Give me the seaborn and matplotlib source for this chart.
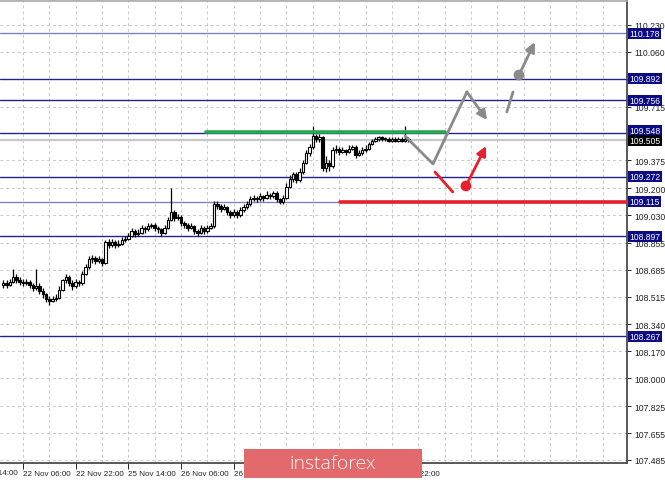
import matplotlib
matplotlib.use("Agg")
import matplotlib.pyplot as plt
import matplotlib.transforms as mtransforms
from matplotlib.patches import Rectangle
import seaborn as sns
import numpy as np

# ---- data (H1 candles, hours from 22 Nov 06:00) ----
hours = np.arange(-6, 118)
first_open = 108.59
closes = [108.60, 108.59, 108.61, 108.64, 108.62, 108.61, 108.60, 108.61, 108.59, 108.57,
          108.58, 108.55, 108.53, 108.50, 108.49, 108.50, 108.51, 108.56, 108.62, 108.64,
          108.60, 108.58, 108.61, 108.60, 108.66, 108.70, 108.75, 108.76, 108.74, 108.75,
          108.73, 108.86, 108.84, 108.86, 108.84, 108.85, 108.87, 108.88, 108.90, 108.93,
          108.91, 108.92, 108.95, 108.94, 108.96, 108.97, 108.95, 108.94, 108.92, 108.95,
          109.00, 109.05, 109.01, 109.02, 108.98, 108.97, 108.95, 108.96, 108.93, 108.92,
          108.95, 108.93, 108.95, 108.96, 109.10, 109.09, 109.07, 109.08, 109.05, 109.03,
          109.05, 109.03, 109.06, 109.08, 109.10, 109.13, 109.14, 109.13, 109.15, 109.14,
          109.16, 109.15, 109.17, 109.13, 109.11, 109.14, 109.21, 109.26, 109.29, 109.25,
          109.30, 109.36, 109.42, 109.46, 109.53, 109.51, 109.52, 109.33, 109.36, 109.34,
          109.44, 109.45, 109.43, 109.44, 109.43, 109.45, 109.46, 109.41, 109.42, 109.44,
          109.45, 109.48, 109.50, 109.51, 109.52, 109.51, 109.51, 109.50, 109.51, 109.50,
          109.51, 109.50, 109.51, 109.505]
highs = [108.62, 108.62, 108.63, 108.69, 108.66, 108.64, 108.63, 108.63, 108.62, 108.60,
         108.69, 108.60, 108.57, 108.54, 108.52, 108.52, 108.53, 108.58, 108.63, 108.66,
         108.65, 108.62, 108.63, 108.62, 108.68, 108.72, 108.77, 108.78, 108.77, 108.77,
         108.76, 108.87, 108.88, 108.88, 108.87, 108.87, 108.89, 108.90, 108.92, 108.95,
         108.94, 108.94, 108.97, 108.96, 108.98, 108.98, 108.98, 108.96, 108.95, 108.97,
         109.02, 109.20, 109.06, 109.04, 109.03, 108.99, 108.98, 108.98, 108.97, 108.94,
         108.97, 108.96, 108.97, 108.98, 109.12, 109.12, 109.10, 109.10, 109.09, 109.06,
         109.07, 109.06, 109.08, 109.10, 109.12, 109.15, 109.16, 109.15, 109.17, 109.16,
         109.18, 109.17, 109.18, 109.18, 109.14, 109.16, 109.23, 109.28, 109.30, 109.30,
         109.33, 109.38, 109.44, 109.48, 109.59, 109.54, 109.54, 109.53, 109.40, 109.38,
         109.46, 109.47, 109.46, 109.46, 109.45, 109.47, 109.47, 109.47, 109.44, 109.46,
         109.47, 109.49, 109.51, 109.52, 109.53, 109.53, 109.52, 109.52, 109.52, 109.52,
         109.52, 109.52, 109.59, 109.52]
lows = [108.57, 108.57, 108.58, 108.60, 108.60, 108.59, 108.58, 108.59, 108.57, 108.55,
        108.56, 108.53, 108.51, 108.48, 108.46, 108.48, 108.49, 108.50, 108.55, 108.60,
        108.58, 108.56, 108.57, 108.58, 108.59, 108.65, 108.69, 108.73, 108.72, 108.73,
        108.71, 108.72, 108.82, 108.83, 108.82, 108.83, 108.84, 108.86, 108.87, 108.89,
        108.89, 108.90, 108.91, 108.92, 108.93, 108.95, 108.93, 108.92, 108.90, 108.91,
        108.94, 108.99, 108.99, 109.00, 108.96, 108.95, 108.93, 108.94, 108.91, 108.90,
        108.91, 108.91, 108.92, 108.94, 108.95, 109.07, 109.05, 109.06, 109.03, 109.01,
        109.02, 109.01, 109.02, 109.05, 109.07, 109.09, 109.12, 109.11, 109.12, 109.12,
        109.13, 109.13, 109.14, 109.11, 109.10, 109.10, 109.13, 109.20, 109.24, 109.23,
        109.24, 109.29, 109.35, 109.40, 109.45, 109.49, 109.49, 109.31, 109.30, 109.31,
        109.33, 109.42, 109.41, 109.42, 109.41, 109.42, 109.44, 109.39, 109.40, 109.41,
        109.43, 109.44, 109.47, 109.49, 109.50, 109.50, 109.50, 109.49, 109.49, 109.49,
        109.49, 109.49, 109.49, 109.49]
opens = [first_open] + closes[:-1]

# price axis: grid values and the labels that are visible (the others sit under level boxes)
price_grid = [110.230, 110.060, 109.890, 109.715, 109.545, 109.375, 109.200, 109.030,
              108.855, 108.685, 108.515, 108.340, 108.170, 108.000, 107.825, 107.655, 107.485]
price_labels = [110.230, 110.060, 109.715, 109.375, 109.200, 109.030,
                108.855, 108.685, 108.515, 108.340, 108.170, 108.000, 107.825, 107.655, 107.485]
levels = [110.178, 109.892, 109.756, 109.548, 109.272, 109.115, 108.897, 108.267]
level_colors = ["#8080c8", "#23238f", "#23238f", "#23238f", "#23238f", "#8080c8", "#23238f", "#23238f"]
current_price = 109.505

# time axis (hours from 22 Nov 06:00)
time_ticks = [0, 16, 32, 48, 64, 80, 96, 112]
time_labels = ["22 Nov 06:00", "22 Nov 22:00", "25 Nov 14:00", "26 Nov 06:00",
               "26 Nov 22:00", "27 Nov 14:00", "28 Nov 06:00", "28 Nov 22:00"]
first_label = (-16, "21 Nov 14:00")

# forecast drawing
green_level = (55.6, 128.1, 109.556)
red_level = (96.2, 109.115)
gray_path_t = [116, 124.5, 134.8]
gray_path_p = [109.529, 109.353, 109.807]
gray_arrow1 = ((134.8, 109.807), (140.9, 109.630))
gray_dash = ([146.9, 148.8], [109.681, 109.807])
gray_dot = (150.6, 109.914)
gray_arrow2 = ((150.6, 109.914), (155.4, 110.122))
red_seg = ([125.1, 130.5], [109.302, 109.176])
red_dot = (134.5, 109.214)
red_arrow = ((134.5, 109.214), (140.6, 109.466))

FS_Y = 6.2
FS_X = 5.8

sns.set_theme(style="white")
plt.rcParams["font.family"] = ["Liberation Sans", "DejaVu Sans"]

fig = plt.figure(figsize=(6.65, 4.81), dpi=100)
ax = fig.add_axes([0, 17 / 481, 627 / 665, 462 / 481])
ax.set_xlim(-6.98, 183.4)
ax.set_ylim(107.466, 110.381)

# grid
for v in price_grid:
    ax.axhline(v, color="#c8c8c8", lw=0.7, ls=(0, (3, 3)), zorder=0)
for t in range(-16, 184, 8):
    ax.axvline(t, color="#c8c8c8", lw=0.7, ls=(0, (3, 3)), zorder=0)

# levels
ax.axhline(current_price, color="#c8c8c8", lw=1.6, zorder=1)
for lv, col in zip(levels, level_colors):
    ax.axhline(lv, color=col, lw=1.0, zorder=1)

# candles
o = np.array(opens)
c = np.array(closes)
ax.vlines(hours, lows, highs, color="black", lw=0.9, zorder=3)
body_low = np.minimum(o, c)
body_h = np.maximum(np.abs(c - o), 0.004)
bull = c >= o
ax.bar(hours[bull], body_h[bull], bottom=body_low[bull], width=0.75,
       color="white", edgecolor="black", linewidth=0.8, zorder=4)
ax.bar(hours[~bull], body_h[~bull], bottom=body_low[~bull], width=0.75,
       color="black", edgecolor="black", linewidth=0.8, zorder=4)

# forecast lines
ax.plot([green_level[0], green_level[1]], [green_level[2]] * 2, color="#27a84f", lw=2.6, zorder=5)
ax.plot([red_level[0], 183.4], [red_level[1]] * 2, color="#e5212d", lw=2.6, zorder=5)
sns.lineplot(x=gray_path_t, y=gray_path_p, sort=False, color="#8a8a8a", lw=2.0, ax=ax, zorder=6)
for (p0, p1), col in [(gray_arrow1, "#8a8a8a"), (gray_arrow2, "#8a8a8a"), (red_arrow, "#e5212d")]:
    ax.annotate("", xy=p1, xytext=p0,
                arrowprops=dict(arrowstyle="-|>", color=col, lw=2.0, mutation_scale=14,
                                shrinkA=0, shrinkB=0), zorder=6)
ax.plot(gray_dash[0], gray_dash[1], color="#8a8a8a", lw=2.0, zorder=6)
ax.plot(red_seg[0], red_seg[1], color="#e5212d", lw=2.0, zorder=6)
sns.scatterplot(x=[gray_dot[0]], y=[gray_dot[1]], color="#8a8a8a", s=60, ax=ax, zorder=7, edgecolor="none")
sns.scatterplot(x=[red_dot[0]], y=[red_dot[1]], color="#e5212d", s=60, ax=ax, zorder=7, edgecolor="none")

# axes styling
ax.spines["left"].set_visible(False)
ax.spines["right"].set_color("#444444")
ax.spines["bottom"].set_color("#444444")
ax.spines["top"].set_color("#aaaaaa")
ax.yaxis.tick_right()
ax.set_yticks(price_grid)
ax.set_yticklabels([f"{v:.3f}" if v in price_labels else "" for v in price_grid])
ax.set_xticks(time_ticks)
ax.set_xticklabels(time_labels, ha="left")
ax.tick_params(axis="y", right=True, length=3, width=0.7, pad=2, labelsize=FS_Y, colors="#222222")
ax.tick_params(axis="x", bottom=True, length=4, width=0.7, pad=1, labelsize=FS_X, colors="#222222")
ax.text(first_label[0], -0.012, first_label[1], transform=ax.get_xaxis_transform(),
        ha="left", va="top", fontsize=FS_X, color="#222222", clip_on=False)

# level labels on the price scale (109.548 box sits just above the current-price box)
trans = mtransforms.blended_transform_factory(ax.transAxes, ax.transData)
for lv in levels:
    y_lab = lv + 0.014 if lv == 109.548 else lv
    ax.text(1.004, y_lab, f"{lv:.3f}", transform=trans, ha="left", va="center", fontsize=FS_Y,
            color="white", clip_on=False, zorder=10,
            bbox=dict(boxstyle="square,pad=0.12", fc="#0b0b85", ec="none"))
ax.text(1.004, current_price - 0.004, f"{current_price:.3f}", transform=trans, ha="left",
        va="center", fontsize=FS_Y, color="white", clip_on=False, zorder=10,
        bbox=dict(boxstyle="square,pad=0.12", fc="black", ec="none"))

# logo
fig.patches.append(Rectangle((244 / 665, 2 / 481), 178 / 665, 29 / 481, transform=fig.transFigure,
                             facecolor="#e26a6c", edgecolor="none", zorder=20))
fig.text(333 / 665, 17 / 481, "instaforex", ha="center", va="center", fontsize=14,
         color="#fff4f4", family=["Open Sans", "DejaVu Sans"], fontweight="light", zorder=21)

fig.savefig("out.png", dpi=100)
